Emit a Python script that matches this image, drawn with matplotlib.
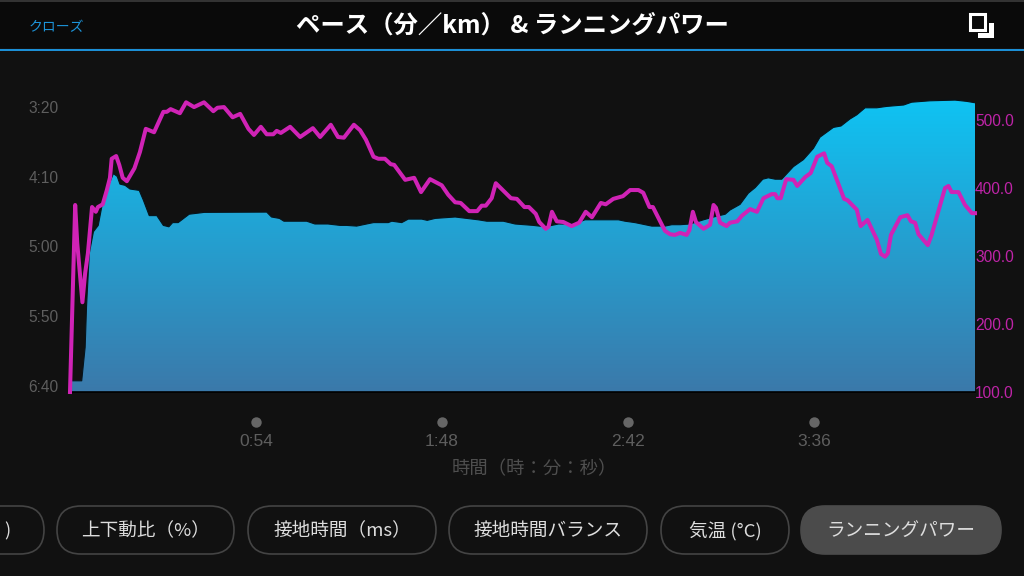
import numpy as np
import matplotlib
matplotlib.use('Agg')
import matplotlib.pyplot as plt
from matplotlib.colors import LinearSegmentedColormap
from matplotlib.patches import FancyBboxPatch, Rectangle
from matplotlib.transforms import ScaledTranslation, blended_transform_factory

plt.rcParams['font.family'] = ['Noto Sans CJK JP', 'DejaVu Sans']

# Pace area: time in minutes, pace in seconds per km
pace_time = [0, 0.4, 3.4, 4.4, 4.8, 5.6, 6.8, 8.2, 9.2, 11.1, 12.6, 13.7, 14.5, 16.0, 17.4, 20.1, 21.3, 23.0, 25.2,
             27.1, 28.7, 29.8, 31.4, 34.6, 38.0, 38.9, 57.1, 58.5, 60.8, 62.1, 68.7, 71.1, 74.9, 78.4, 80.3, 83.2,
             86.1, 88.1, 92.4, 93.4, 96.3, 98.2, 102.1, 103.7, 106.0, 111.8, 118.5, 121.0, 123.9, 125.8, 129.2,
             134.5, 137.9, 141.8, 146.1, 149.5, 159.2, 161.1, 164.0, 168.9, 172.7, 174.7, 177.1, 180.0, 183.9,
             186.8, 190.2, 191.6, 194.5, 196.9, 198.9, 201.1, 202.7, 204.7, 206.6, 210.0, 212.9, 215.8, 217.7,
             221.6, 223.8, 226.4, 228.4, 230.8, 234.2, 237.1, 242.0, 244.3, 249.6, 256.9, 260.3, 262.7]
pace_sec = [400, 392, 392, 368, 339, 301, 285.5, 281, 268, 253, 244, 246, 251.5, 252.4, 255, 256, 263, 274, 274,
            281, 282, 279, 279, 273, 272, 271.7, 271.5, 275, 276, 278, 278, 280, 280, 281, 281, 281.5,
            280, 279, 279, 278, 279, 276.5, 276.5, 277.4, 276, 275, 277, 278, 278, 278, 280,
            281, 282, 280, 280, 277, 277, 278, 279, 281.5, 281.5, 280.5, 280.5, 280, 277,
            275, 273, 270, 266, 258, 254, 248, 247, 248, 248, 239, 234, 226, 218,
            211, 210, 205, 202, 197, 197, 196, 195, 193, 192, 191.5, 192.4, 193.4]

# Running power line: time in minutes, power in watts
power_time = [0, 1.5, 2.1, 3.6, 4.4, 5.2, 6.4, 7.5, 8.1, 9.5, 10.7, 11.6, 12.1, 13.4, 14.3, 15.3, 16.5, 18.7, 20.3,
              22.0, 24.4, 27.1, 28.1, 29.2, 31.9, 33.7, 36.0, 38.9, 41.6, 42.8, 44.7, 47.2, 49.4, 51.8, 53.4, 55.4,
              57.1, 59.0, 60.0, 61.2, 63.9, 66.8, 70.5, 72.6, 75.7, 77.8, 79.5, 82.4, 84.2, 85.9, 88.1, 89.5, 91.4,
              93.1, 94.1, 97.3, 99.9, 101.9, 104.5, 107.9, 109.8, 111.8, 113.4, 115.9, 118.2, 119.5, 120.7, 122.4,
              123.6, 125.8, 128.0, 129.7, 131.9, 133.2, 135.2, 136.2, 138.1, 138.9, 139.9, 141.3, 143.2, 145.6,
              147.8, 149.7, 151.5, 154.1, 155.5, 157.7, 160.5, 162.6, 165.0, 166.4, 168.2, 169.2, 172.7, 174.2,
              175.6, 177.1, 179.0, 179.8, 180.8, 181.7, 183.9, 185.8, 186.8, 187.5, 188.7, 190.6, 191.6, 193.7,
              195.0, 197.4, 199.4, 201.3, 203.7, 204.7, 205.3, 206.3, 207.9, 210.0, 211.1, 213.4, 215.0, 216.9,
              218.9, 219.8, 221.1, 224.7, 225.7, 228.4, 229.5, 231.5, 234.2, 235.4, 236.6, 237.4, 238.3, 241.0,
              243.1, 244.1, 245.3, 246.3, 249.0, 250.1, 254.0, 255.0, 255.9, 257.9, 259.8, 261.8, 262.7]
power_watts = [100, 375, 319, 232, 275, 304, 372, 365, 372, 376, 397, 415, 443, 447, 434, 415, 410, 429, 453,
               487, 482, 512, 512, 516, 510, 526, 519, 526, 513, 518, 519, 504, 509, 487, 478, 490,
               479, 479, 484, 481, 490, 475, 488, 475, 493, 475, 474, 493, 485, 471, 446, 443, 443,
               435, 434, 412, 415, 394, 413, 404, 390, 379, 378, 366, 366, 374, 374, 385,
               407, 396, 385, 384, 372, 372, 362, 350, 340, 343, 365, 351, 350, 344,
               349, 365, 357, 378, 376, 384, 388, 397, 397, 393, 372, 372, 337, 332,
               331, 334, 331, 338, 365, 350, 340, 346, 375, 371, 349, 344, 349, 351,
               359, 369, 365, 385, 391, 391, 385, 385, 413, 412, 403, 416, 422, 446,
               451, 437, 432, 384, 382, 368, 344, 353, 324, 303, 299, 304, 331, 357,
               360, 351, 349, 332, 316, 331, 400, 403, 394, 394, 375, 363, 363]

# Axis ticks
time_ticks = [54, 108, 162, 216]
time_labels = ['0:54', '1:48', '2:42', '3:36']
pace_ticks = [200, 250, 300, 350, 400]
pace_labels = ['3:20', '4:10', '5:00', '5:50', '6:40']
power_ticks = [100, 200, 300, 400, 500]
power_labels = ['100.0', '200.0', '300.0', '400.0', '500.0']

# Buttons along the bottom
chip_names = [')', '上下動比（%）', '接地時間（ms）', '接地時間バランス', '気温 (°C)', 'ランニングパワー']
chip_left = [-120, 57, 248, 449, 661, 801]
chip_right = [44, 234, 436, 647, 789, 1001]

grey = '#5e5e5e'
magenta = '#d023b6'
num_font = ['Liberation Sans', 'DejaVu Sans']

fig = plt.figure(figsize=(10.24, 5.76), dpi=100, facecolor='#111111')

# Page furniture, drawn in pixel coordinates
page = fig.add_axes([0, 0, 1, 1])
page.set_xlim(0, 1024)
page.set_ylim(576, 0)
page.axis('off')
page.add_patch(Rectangle((0, 0), 1024, 48, color='#0a0a0a', lw=0))
page.add_patch(Rectangle((0, 0), 1024, 1.5, color='#333333', lw=0))
page.add_patch(Rectangle((0, 48.5), 1024, 2, color='#1c8fd6', lw=0))
page.text(56, 31, 'クローズ', color='#1c93d8', fontsize=10, ha='center', va='baseline')
page.text(512, 33, 'ペース（分／km） & ランニングパワー', color='white', fontsize=17.6, fontweight='bold',
          ha='center', va='baseline')

# Expand icon
page.add_patch(Rectangle((970, 14), 15, 16, fill=False, ec='white', lw=2.2))
page.add_patch(Rectangle((989, 23), 5, 15, color='white', lw=0))
page.add_patch(Rectangle((978, 33), 16, 5, color='white', lw=0))

for name, left, right in zip(chip_names, chip_left, chip_right):
    selected = name == 'ランニングパワー'
    page.add_patch(FancyBboxPatch((left, 506), right - left, 48, boxstyle='round,pad=0,rounding_size=24',
                                  fc='#4b4b4b' if selected else 'none', ec='#4b4b4b' if selected else '#444444',
                                  lw=1.2))
    if name == ')':
        page.text(7, 536, name, color='#dddddd', fontsize=13.4, ha='center', va='baseline')
    else:
        page.text((left + right) / 2, 536, name, color='#dddddd', fontsize=13.4, ha='center', va='baseline')

# Main chart
ax = fig.add_axes([70 / 1024, (576 - 392) / 576, 905 / 1024, 312 / 576], facecolor='none')
ax.set_xlim(0, 262.7)
pace_top = 400 - 312 / 1.4
ax.set_ylim(400, pace_top)

area = ax.fill_between(pace_time, pace_sec, 400, facecolor='none', edgecolor='none')
cmap = LinearSegmentedColormap.from_list('pace', ['#0fc3f3', '#3b79aa'])
gradient = np.linspace(0, 1, 256).reshape(-1, 1)
# gradient runs from the top of the area down to the baseline
im = ax.imshow(gradient, cmap=cmap, aspect='auto', extent=(0, 262.7, 400, min(pace_sec)), zorder=1)
im.set_clip_path(area.get_paths()[0], transform=ax.transData)
ax.plot(pace_time, pace_sec, color='#06141c', lw=0.8, zorder=2)
ax.set_xlim(0, 262.7)
ax.set_ylim(400, pace_top)

ax.set_yticks(pace_ticks)
ax.set_yticklabels(pace_labels, color=grey, fontsize=11.2, family=num_font)
ax.tick_params(axis='y', length=0, pad=8.5)
# pace labels sit just above their values
shift = ScaledTranslation(0, 5.5 / 100, fig.dpi_scale_trans)
for label in ax.get_yticklabels():
    label.set_transform(label.get_transform() + shift)

ax.set_xticks(time_ticks)
ax.set_xticklabels(time_labels, color=grey, fontsize=12.5, family=num_font)
ax.tick_params(axis='x', length=0, pad=30.5)
ax.set_xlabel('時間（時：分：秒）', color='#4f4f4f', fontsize=13.2, labelpad=7.5, x=0.513)

for side in ['top', 'left', 'right']:
    ax.spines[side].set_visible(False)
ax.spines['bottom'].set_color('#000000')
ax.spines['bottom'].set_linewidth(1.2)

# Dots between the baseline and the time labels
dot_trans = blended_transform_factory(ax.transData, ax.transAxes)
ax.plot(time_ticks, [-30 / 312] * len(time_ticks), 'o', color='#666666', ms=7.5, mec='none',
        transform=dot_trans, clip_on=False)

# Power line on its own axis
ax2 = ax.twinx()
ax2.set_ylim(100, 100 + 312 / 0.68)
ax2.plot(power_time, power_watts, color=magenta, lw=2.9, solid_joinstyle='round', zorder=3, clip_on=False)
ax2.set_yticks(power_ticks)
ax2.set_yticklabels(power_labels, color='#bf24a8', fontsize=11.2, family=num_font)
ax2.tick_params(axis='y', length=0, pad=0)
for side in ['top', 'left', 'right', 'bottom']:
    ax2.spines[side].set_visible(False)

fig.savefig('out.png', dpi=100, facecolor=fig.get_facecolor())
